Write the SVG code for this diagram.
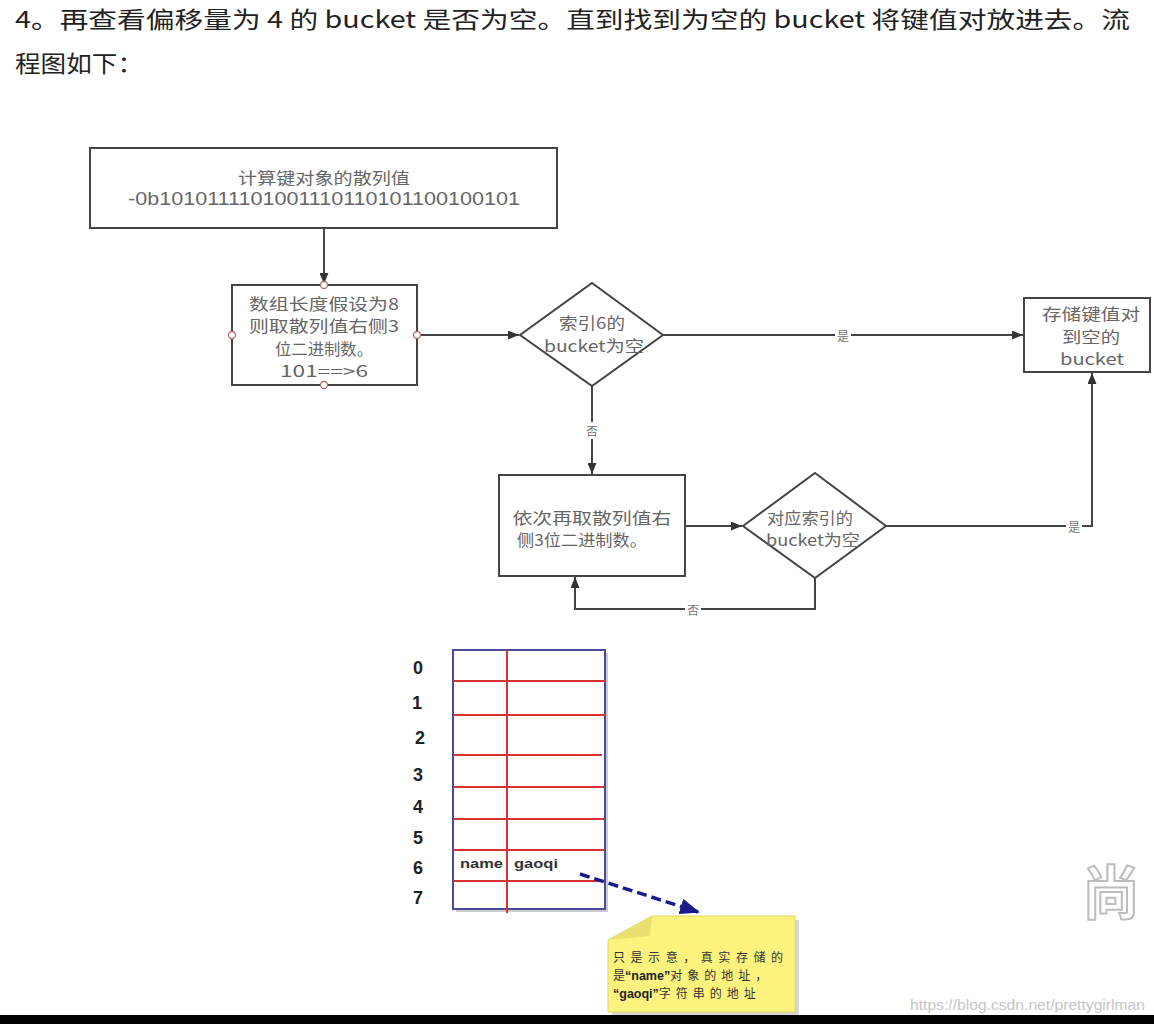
<svg xmlns="http://www.w3.org/2000/svg" width="1154" height="1024" viewBox="0 0 1154 1024">
<style>
.hdr{font-family:"Noto Sans CJK SC","Liberation Sans",sans-serif;font-size:23px;fill:#222}
.t{font-family:"Noto Sans CJK SC","Liberation Sans",sans-serif;font-size:16px;fill:#666;text-anchor:middle;dominant-baseline:central}
.num{font-family:"Liberation Sans",sans-serif;font-size:18px;fill:#666;text-anchor:middle;dominant-baseline:central}
.lbl{font-family:"Noto Sans CJK SC",sans-serif;font-size:12px;fill:#777;text-anchor:middle;dominant-baseline:central}
.box{fill:#fff;stroke:#444;stroke-width:2}
.pt{fill:#fff;stroke:#b56a6a;stroke-width:1.3}
.con{fill:none;stroke:#444;stroke-width:2}
.row{font-family:"Liberation Sans",sans-serif;font-weight:bold;font-size:18px;fill:#222;text-anchor:middle;dominant-baseline:central}
.cell{font-family:"Liberation Sans",sans-serif;font-weight:bold;font-size:13px;fill:#333}
.red{stroke:#d93030;stroke-width:2}
.note{font-family:"Noto Sans CJK SC",sans-serif;font-size:12px;fill:#333}
.noteb{font-family:"Liberation Sans",sans-serif;font-weight:bold;font-size:12.5px;fill:#222}
</style>
<defs>
<marker id="ah" markerUnits="userSpaceOnUse" markerWidth="11" markerHeight="9" refX="11" refY="4.5" orient="auto">
<path d="M0,0 L11,4.5 L0,9 z" fill="#333"/>
</marker>
<marker id="bh" markerUnits="userSpaceOnUse" markerWidth="20" markerHeight="16" refX="18" refY="8" orient="auto">
<path d="M0,0 L20,8 L0,16 z" fill="#1a1a8c"/>
</marker>
</defs>
<rect width="1154" height="1024" fill="#fff"/>

<g id="header">
<text class="hdr" x="15" y="28" textLength="1115" lengthAdjust="spacingAndGlyphs">4。再查看偏移量为 4 的 bucket 是否为空。直到找到为空的 bucket 将键值对放进去。流</text>
<text class="hdr" x="15" y="72" textLength="128" lengthAdjust="spacingAndGlyphs">程图如下：</text>
</g>

<g id="connectors">
<path class="con" d="M324,228 V284" marker-end="url(#ah)"/>
<path class="con" d="M417,335 H519" marker-end="url(#ah)"/>
<path class="con" d="M663,335 H1023" marker-end="url(#ah)"/>
<path class="con" d="M592,386 V474" marker-end="url(#ah)"/>
<path class="con" d="M685,526 H742" marker-end="url(#ah)"/>
<path class="con" d="M886,526 H1092 V373" marker-end="url(#ah)"/>
<path class="con" d="M815,578 V609 H575 V577" marker-end="url(#ah)"/>
<rect x="835" y="327" width="16" height="17" fill="#fff"/>
<text class="lbl" x="843" y="335">是</text>
<rect x="584" y="422" width="16" height="17" fill="#fff"/>
<text class="lbl" x="592" y="430">否</text>
<rect x="1066" y="518" width="16" height="17" fill="#fff"/>
<text class="lbl" x="1074" y="526">是</text>
<rect x="685" y="601" width="16" height="17" fill="#fff"/>
<text class="lbl" x="693" y="609">否</text>
</g>

<g id="hash">
<rect class="box" x="90" y="148" width="467" height="80"/>
<text class="t" x="324" y="177" textLength="172" lengthAdjust="spacingAndGlyphs">计算键对象的散列值</text>
<text class="num" x="324" y="199" textLength="392" lengthAdjust="spacingAndGlyphs">-0b1010111101001110110101100100101</text>
</g>

<g id="index">
<rect class="box" x="232" y="285" width="185" height="100"/>
<text class="t" x="324" y="303" textLength="150" lengthAdjust="spacingAndGlyphs">数组长度假设为8</text>
<text class="t" x="324" y="325" textLength="150" lengthAdjust="spacingAndGlyphs">则取散列值右侧3</text>
<text class="t" x="324" y="348" textLength="98" lengthAdjust="spacingAndGlyphs">位二进制数。</text>
<text class="t" x="324" y="370" textLength="88" lengthAdjust="spacingAndGlyphs">101==&gt;6</text>
<circle class="pt" cx="324" cy="285" r="3.5"/>
<circle class="pt" cx="232" cy="335" r="3.5"/>
<circle class="pt" cx="417" cy="335" r="3.5"/>
<circle class="pt" cx="324" cy="385" r="3.5"/>
</g>

<g id="check6">
<path class="box" d="M592,283 L663,335 L592,386 L520,335 z"/>
<text class="t" x="592" y="322" textLength="66" lengthAdjust="spacingAndGlyphs">索引6的</text>
<text class="t" x="594" y="345" textLength="100" lengthAdjust="spacingAndGlyphs">bucket为空</text>
</g>

<g id="store">
<rect class="box" x="1024" y="298" width="126" height="74"/>
<text class="t" x="1091" y="313" textLength="98" lengthAdjust="spacingAndGlyphs">存储键值对</text>
<text class="t" x="1091" y="336" textLength="58" lengthAdjust="spacingAndGlyphs">到空的</text>
<text class="t" x="1092" y="358" textLength="64" lengthAdjust="spacingAndGlyphs">bucket</text>
</g>

<g id="next">
<rect class="box" x="499" y="475" width="186" height="101"/>
<text class="t" x="592" y="517" textLength="159" lengthAdjust="spacingAndGlyphs">依次再取散列值右</text>
<text class="t" x="582" y="539" textLength="130" lengthAdjust="spacingAndGlyphs">侧3位二进制数。</text>
</g>

<g id="check">
<path class="box" d="M815,473 L886,526 L815,578 L743,526 z"/>
<text class="t" x="810" y="517" textLength="86" lengthAdjust="spacingAndGlyphs">对应索引的</text>
<text class="t" x="813" y="539" textLength="94" lengthAdjust="spacingAndGlyphs">bucket为空</text>
</g>

<g id="table">
<rect x="456" y="653" width="152" height="259" fill="#ccc"/>
<rect x="453" y="650" width="152" height="259" fill="#fff" stroke="#4b4b9b" stroke-width="2"/>
<line class="red" x1="453" y1="681" x2="606" y2="681"/>
<line class="red" x1="453" y1="715" x2="606" y2="715"/>
<line class="red" x1="453" y1="755" x2="602" y2="755"/>
<line class="red" x1="453" y1="787" x2="604" y2="787"/>
<line class="red" x1="453" y1="819" x2="604" y2="819"/>
<line class="red" x1="453" y1="850" x2="604" y2="850"/>
<line class="red" x1="453" y1="881" x2="604" y2="881"/>
<line class="red" x1="507" y1="650" x2="507" y2="913"/>
<text class="row" x="418" y="668">0</text>
<text class="row" x="417" y="703">1</text>
<text class="row" x="420" y="738">2</text>
<text class="row" x="418" y="775">3</text>
<text class="row" x="418" y="807">4</text>
<text class="row" x="418" y="838">5</text>
<text class="row" x="418" y="868">6</text>
<text class="row" x="418" y="898">7</text>
<text class="cell" x="460" y="868" textLength="43" lengthAdjust="spacingAndGlyphs">name</text>
<text class="cell" x="514" y="868" textLength="44" lengthAdjust="spacingAndGlyphs">gaoqi</text>
</g>

<g id="pointer">
<line x1="580" y1="874" x2="698" y2="912" stroke="#1a1a8c" stroke-width="3.5" stroke-dasharray="10,5" marker-end="url(#bh)"/>
</g>

<g id="note">
<path d="M655,920 L799,920 L799,1016 L612,1016 L612,944 z" fill="#bbb" opacity="0.6"/>
<path d="M652,916 L795,916 L795,1012 L608,1012 L608,940 z" fill="#fbf37e" stroke="#e0d860" stroke-width="1"/>
<path d="M608,940 L652,916 L650,936 z" fill="#e9e070"/>
<text class="note" x="613" y="962" textLength="170" lengthAdjust="spacing">只是示意，真实存储的</text>
<text class="note" x="613" y="980">是<tspan class="noteb">“name”</tspan><tspan letter-spacing="5">对象的地址，</tspan></text>
<text class="note" x="613" y="998"><tspan class="noteb">“gaoqi”</tspan><tspan letter-spacing="5">字符串的地址</tspan></text>
</g>

<g id="watermark">
<text x="1082" y="914" font-family="Noto Sans CJK SC,sans-serif" font-size="58" font-weight="bold" fill="#fff" stroke="#bdbdbd" stroke-width="2">尚</text>
<text x="910" y="1010" font-family="Liberation Sans,sans-serif" font-size="15" fill="#c6c6c6" textLength="235" lengthAdjust="spacingAndGlyphs">https://blog.csdn.net/prettygirlman</text>
</g>

<rect x="0" y="1015" width="1154" height="9" fill="#000"/>
</svg>
